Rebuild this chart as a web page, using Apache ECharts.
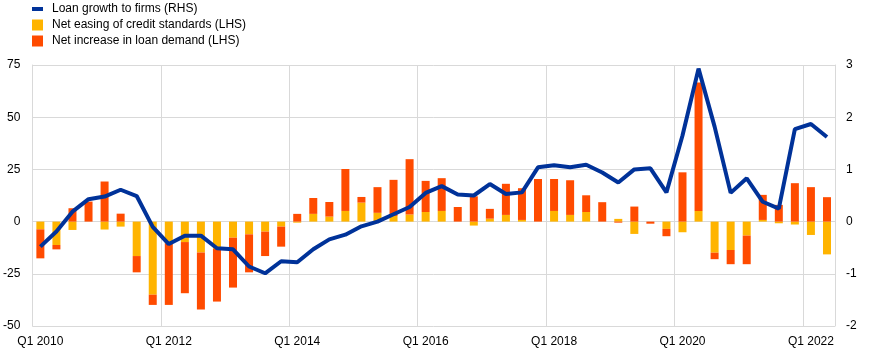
<!DOCTYPE html>
<html>
<head>
<meta charset="utf-8">
<script src="https://cdn.jsdelivr.net/npm/echarts@6/dist/echarts.min.js"></script>
<style>
html,body{margin:0;padding:0;background:#fff;}
#chart{width:872px;height:352px;}
</style>
</head>
<body>
<div id="chart"></div>
<script>
var categories = [
  'Q1 2010','Q2 2010','Q3 2010','Q4 2010',
  'Q1 2011','Q2 2011','Q3 2011','Q4 2011',
  'Q1 2012','Q2 2012','Q3 2012','Q4 2012',
  'Q1 2013','Q2 2013','Q3 2013','Q4 2013',
  'Q1 2014','Q2 2014','Q3 2014','Q4 2014',
  'Q1 2015','Q2 2015','Q3 2015','Q4 2015',
  'Q1 2016','Q2 2016','Q3 2016','Q4 2016',
  'Q1 2017','Q2 2017','Q3 2017','Q4 2017',
  'Q1 2018','Q2 2018','Q3 2018','Q4 2018',
  'Q1 2019','Q2 2019','Q3 2019','Q4 2019',
  'Q1 2020','Q2 2020','Q3 2020','Q4 2020',
  'Q1 2021','Q2 2021','Q3 2021','Q4 2021',
  'Q1 2022','Q2 2022'
];

// Net easing of credit standards (LHS)
var creditStandards = [
  -3.7, -11.2, -4.0, 0,
  -3.8, -2.4, -16.5, -35.0,
  -10.4, -9.8, -14.8, -13.1,
  -7.7, -6.1, -4.8, -2.4,
  -0.5, 3.7, 2.4, 5.1,
  9.1, 4.2, 2.7, 3.4,
  4.6, 5.1, 0, -1.9,
  1.4, 3.2, 0.8, 0,
  5.1, 3.2, 4.6, 0,
  1.3, -5.9, 0, -3.5,
  -5.1, 5.1, -14.9, -13.6,
  -6.7, 0.8, -0.8, -1.4,
  -6.4, -15.7
];

// Net increase in loan demand (LHS)
var loanDemand = [
  -13.9, -2.1, 6.4, 9.6,
  19.2, 3.8, -7.8, -4.9,
  -29.5, -24.5, -27.3, -25.2,
  -23.9, -18.2, -11.7, -9.6,
  3.7, 7.6, 7.0, 20.1,
  2.7, 12.3, 17.3, 26.5,
  14.9, 15.7, 7.0, 12.1,
  4.7, 14.9, 15.2, 20.4,
  15.3, 16.6, 8.0, 9.3,
  -0.5, 7.2, -1.0, -3.5,
  23.6, 61.5, -3.1, -6.8,
  -13.7, 12.0, 8.0, 18.4,
  16.5, 11.7
];

// Loan growth to firms (RHS)
var loanGrowth = [
  -0.48, -0.19, 0.19, 0.43,
  0.48, 0.61, 0.49, -0.10,
  -0.43, -0.27, -0.27, -0.51,
  -0.53, -0.86, -0.99, -0.76,
  -0.78, -0.53, -0.34, -0.25,
  -0.09, 0.00, 0.14, 0.28,
  0.55, 0.68, 0.52, 0.50,
  0.72, 0.53, 0.56, 1.04,
  1.08, 1.04, 1.09, 0.94,
  0.75, 1.00, 1.02, 0.56,
  1.65, 2.93, 1.82, 0.55,
  0.83, 0.38, 0.25, 1.77,
  1.87, 1.62
];

var leftTicks = {min: -50, max: 75, interval: 25};
var rightTicks = {min: -2, max: 3, interval: 1};

var FONT = 'Liberation Sans, Arial, sans-serif';
var GRID = '#d9d9d9';

var chart = echarts.init(document.getElementById('chart'), null, {renderer: 'canvas'});
chart.setOption({
  animation: false,
  textStyle: {fontFamily: FONT},
  legend: {
    orient: 'vertical',
    left: 27,
    top: -2,
    itemWidth: 11,
    itemHeight: 11,
    itemGap: 4,
    textStyle: {fontFamily: FONT, fontSize: 12, color: '#000', padding: [0, 0, 0, 4]},
    data: [
      {name: 'Loan growth to firms (RHS)', icon: 'path://M0,0h11v4h-11z'},
      {name: 'Net easing of credit standards (LHS)', icon: 'rect'},
      {name: 'Net increase in loan demand (LHS)', icon: 'rect'}
    ]
  },
  grid: {left: 32, right: 37, top: 65, bottom: 26, containLabel: false},
  xAxis: {
    type: 'category',
    data: categories,
    boundaryGap: true,
    axisLine: {show: true, lineStyle: {color: GRID}},
    axisTick: {show: false},
    axisLabel: {
      interval: function (i) { return i % 8 === 0; },
      fontFamily: FONT, fontSize: 12, color: '#000', margin: 10
    },
    splitLine: {
      show: true,
      interval: function (i) { return i % 8 === 0; },
      lineStyle: {color: GRID, width: 1}
    }
  },
  yAxis: [
    {
      type: 'value',
      min: leftTicks.min, max: leftTicks.max, interval: leftTicks.interval,
      axisLine: {show: true, lineStyle: {color: GRID}},
      axisTick: {show: false},
      axisLabel: {fontFamily: FONT, fontSize: 12, color: '#000', margin: 12},
      splitLine: {show: true, lineStyle: {color: GRID, width: 1}}
    },
    {
      type: 'value',
      position: 'right',
      min: rightTicks.min, max: rightTicks.max, interval: rightTicks.interval,
      axisLine: {show: true, lineStyle: {color: GRID}},
      axisTick: {show: false},
      axisLabel: {fontFamily: FONT, fontSize: 12, color: '#000', margin: 11},
      splitLine: {show: false}
    }
  ],
  series: [
    {
      name: 'Net easing of credit standards (LHS)',
      type: 'bar',
      stack: 'lhs',
      barWidth: 8,
      yAxisIndex: 0,
      itemStyle: {color: '#FFB400'},
      data: creditStandards
    },
    {
      name: 'Net increase in loan demand (LHS)',
      type: 'bar',
      stack: 'lhs',
      barWidth: 8,
      yAxisIndex: 0,
      itemStyle: {color: '#FF4B00'},
      data: loanDemand
    },
    {
      name: 'Loan growth to firms (RHS)',
      type: 'line',
      yAxisIndex: 1,
      symbol: 'none',
      showSymbol: false,
      z: 5,
      lineStyle: {color: '#003299', width: 4},
      itemStyle: {color: '#003299'},
      data: loanGrowth
    }
  ]
});
</script>
</body>
</html>
